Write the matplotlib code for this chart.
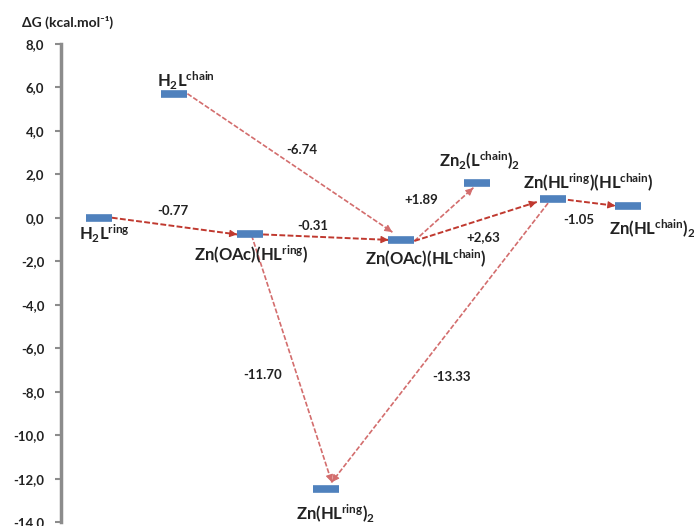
import matplotlib
matplotlib.use("Agg")
import matplotlib.pyplot as plt

plt.rcParams['font.family'] = ['Lato', 'DejaVu Sans']
plt.rcParams['mathtext.fontset'] = 'custom'
plt.rcParams['mathtext.rm'] = 'Lato'
plt.rcParams['mathtext.default'] = 'regular'

# ---- data ----
species = ["H$_2$L$^{ring}$", "H$_2$L$^{chain}$", "Zn(OAc)(HL$^{ring}$)", "Zn(HL$^{ring}$)$_2$",
           "Zn(OAc)(HL$^{chain}$)", "Zn$_2$(L$^{chain}$)$_2$", "Zn(HL$^{ring}$)(HL$^{chain}$)",
           "Zn(HL$^{chain}$)$_2$"]
energies = [0.0, 5.70, -0.77, -12.47, -1.02, 1.58, 0.86, 0.55]
# transitions: (from, to, label)
trans_from = [0, 1, 2, 2, 6, 4, 4, 6]
trans_to   = [2, 4, 4, 3, 3, 5, 6, 7]
trans_lbl  = ["-0.77", "-6.74", "-0.31", "-11.70", "-13.33", "+1.89", "+2,63", "-1.05"]
yticks = [8, 6, 4, 2, 0, -2, -4, -6, -8, -10, -12, -14]
ytick_labels = ["8,0", "6,0", "4,0", "2,0", "0,0", "-2,0", "-4,0", "-6,0", "-8,0", "-10,0", "-12,0", "-14,0"]

# ---- layout ----
HW = 0.172  # half bar width (data units)
start_off = [(HW, 0), (HW, 0), (HW, 0), (0.02, -0.04), (-0.06, -0.19), (HW, -0.05), (HW, -0.05), (HW + 0.03, -0.04)]
end_off   = [(-HW, 0), (-0.12, 0.36), (-HW, 0), (0.08, 0.31), (0.08, 0.31), (-0.05, -0.21), (-0.21, -0.14), (-HW, 0)]
strong    = [True, False, True, False, False, False, True, True]
lbl_pos = [(0.98, 0.30), (2.69, 3.11), (2.83, -0.38), (2.17, -7.23), (4.67, -7.32),
           (4.27, 0.81), (5.08, -0.89), (6.34, -0.10)]
sp_pos = [(0.08, -0.75), (1.15, 6.27), (2.01, -1.68), (3.13, -13.58), (4.33, -1.86),
          (5.04, 2.65), (6.47, 1.64), (7.32, -0.48)]

fig = plt.figure(figsize=(6.94, 5.26), dpi=100)
ax = fig.add_axes([61/694, (526-522.2)/526, 633/694, (522.2-43.7)/526])
ax.set_xlim(-0.5, 7.87)
ax.set_ylim(-14, 8)

for sp in ['top', 'right', 'bottom']:
    ax.spines[sp].set_visible(False)
ax.spines['left'].set_color('#8c8c8c')
ax.spines['left'].set_linewidth(2.5)
ax.set_xticks([])
ax.set_yticks(yticks)
ax.set_yticklabels(ytick_labels, fontsize=9.5, fontweight='bold', color='#222222')
ax.tick_params(axis='y', direction='out', length=4, width=1.5, color='#8c8c8c', pad=8)

# levels
for i, e in enumerate(energies):
    ax.plot([i - HW, i + HW], [e, e], color='#4f81bd', lw=5.5, solid_capstyle='butt', zorder=3)

# arrows
for k in range(len(trans_from)):
    a, b = trans_from[k], trans_to[k]
    x0 = a + start_off[k][0]; y0 = energies[a] + start_off[k][1]
    x1 = b + end_off[k][0]; y1 = energies[b] + end_off[k][1]
    col = '#c0392f' if strong[k] else '#d36d6d'
    lw = 1.4 if strong[k] else 1.2
    ax.plot([x0, x1], [y0, y1], color=col, lw=lw, ls=(0, (3, 1.2)), zorder=2)
    fx = x1 - (x1 - x0) * 0.001
    fy = y1 - (y1 - y0) * 0.001
    ax.annotate('', xy=(x1, y1), xytext=(fx, fy),
                arrowprops=dict(arrowstyle='-|>', color=col, lw=0.8, mutation_scale=11,
                                shrinkA=0, shrinkB=0), zorder=2)
    ax.text(lbl_pos[k][0], lbl_pos[k][1], trans_lbl[k], fontsize=9.5, fontweight='bold',
            color='#222222', ha='center', va='center')

for i, name in enumerate(species):
    ax.text(sp_pos[i][0], sp_pos[i][1], name, fontsize=12, fontweight='bold', color='#222222',
            ha='center', va='center', clip_on=False)

fig.text(22/694, 1 - 22/526, "ΔG (kcal.mol⁻¹)", fontsize=10, fontweight='bold', color='#222222',
         ha='left', va='center')

fig.savefig("out.png", dpi=100)
